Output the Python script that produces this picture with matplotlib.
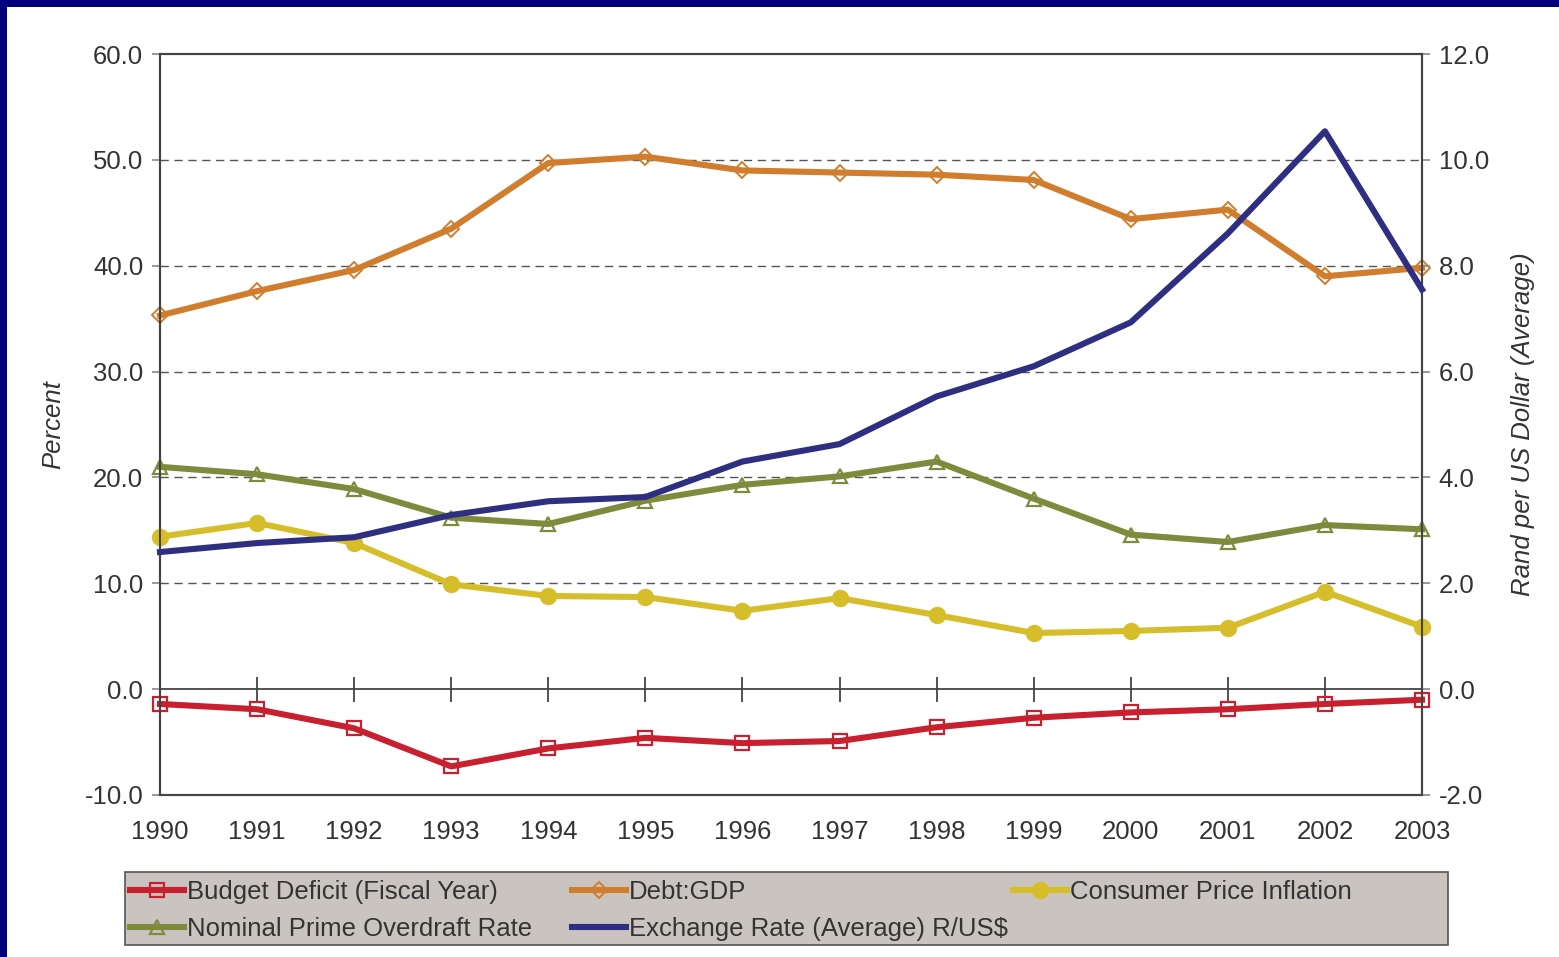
import matplotlib
matplotlib.use('Agg')
from matplotlib import pyplot as plt
from matplotlib.patches import Rectangle

plt.rcParams['font.family'] = ['Liberation Sans', 'DejaVu Sans']

years = list(range(1990, 2004))
budget_deficit = [-1.4, -1.9, -3.7, -7.3, -5.6, -4.6, -5.1, -4.9, -3.6, -2.7, -2.2, -1.9, -1.4, -1.0]
debt_gdp = [35.3, 37.6, 39.6, 43.5, 49.7, 50.3, 49.0, 48.8, 48.6, 48.1, 44.4, 45.3, 39.0, 39.8]
cpi = [14.4, 15.7, 13.8, 9.9, 8.8, 8.7, 7.4, 8.6, 7.0, 5.3, 5.5, 5.8, 9.2, 5.9]
prime_rate = [21.0, 20.3, 18.9, 16.2, 15.6, 17.8, 19.3, 20.1, 21.5, 18.0, 14.6, 13.9, 15.5, 15.1]
exchange_rate = [2.59, 2.76, 2.87, 3.29, 3.55, 3.63, 4.30, 4.63, 5.53, 6.10, 6.93, 8.61, 10.54, 7.55]

left_ticks = [-10, 0, 10, 20, 30, 40, 50, 60]
right_ticks = [-2, 0, 2, 4, 6, 8, 10, 12]

txt = '#333333'
red = '#C8202F'
orange = '#D07D2E'
yellow = '#D6BE2A'
olive = '#7E8B3C'
navy = '#2E2F80'
fs = 18.5

fig = plt.figure(figsize=(15.59, 9.57), dpi=100)
fig.patch.set_facecolor('white')

# navy frame along top and left edge
fig.patches.append(Rectangle((0, 1 - 7 / 957), 1, 7 / 957, transform=fig.transFigure,
                             facecolor='#00007A', edgecolor='none', zorder=0))
fig.patches.append(Rectangle((0, 0), 7 / 1559, 1, transform=fig.transFigure,
                             facecolor='#00007A', edgecolor='none', zorder=0))

ax = fig.add_axes([160 / 1559, 1 - 795 / 957, 1262 / 1559, 741 / 957])
ax2 = ax.twinx()

ax.set_xlim(1990, 2003)
ax.set_ylim(-10, 60)
ax2.set_ylim(-2, 12)

for v in [10, 20, 30, 40, 50]:
    ax.axhline(v, color='#555555', lw=1, ls=(0, (6, 4)), zorder=1)
ax.axhline(0, color='#444444', lw=1.3, zorder=1)
# year ticks sitting across the zero line
ax.plot(years, [0] * len(years), ls='none', marker='|', ms=18, mew=1.3,
        color='#444444', zorder=1, clip_on=False)

kw = dict(lw=4.4, clip_on=False, zorder=3)
l1, = ax.plot(years, budget_deficit, color=red, marker='s', ms=9.5, mfc='none',
              mec=red, mew=1.6, label='Budget Deficit (Fiscal Year)', **kw)
l2, = ax.plot(years, debt_gdp, color=orange, marker='D', ms=8.5, mfc='none',
              mec=orange, mew=1.4, label='Debt:GDP', **kw)
l3, = ax.plot(years, cpi, color=yellow, marker='o', ms=11.5, mec=yellow,
              label='Consumer Price Inflation', **kw)
l4, = ax.plot(years, prime_rate, color=olive, marker='^', ms=10.5, mfc='none',
              mec=olive, mew=1.6, label='Nominal Prime Overdraft Rate', **kw)
l5, = ax2.plot(years, exchange_rate, color=navy, label='Exchange Rate (Average) R/US$', **kw)

ax.set_yticks(left_ticks)
ax.set_yticklabels(['%.1f' % v for v in left_ticks])
ax2.set_yticks(right_ticks)
ax2.set_yticklabels(['%.1f' % v for v in right_ticks])
ax.set_xticks(years)
ax.set_xticklabels([str(y) for y in years])

ax.tick_params(axis='x', length=0, pad=18, labelsize=fs, labelcolor=txt)
ax.tick_params(axis='y', length=6, width=1.2, color='#888888', pad=6, labelsize=fs, labelcolor=txt)
ax2.tick_params(axis='y', length=6, width=1.2, color='#888888', pad=6, labelsize=fs, labelcolor=txt)

for a in (ax, ax2):
    for s in a.spines.values():
        s.set_color('#444444')
        s.set_linewidth(1.5)

ax.set_ylabel('Percent', fontsize=fs, style='italic', color=txt, labelpad=14)
ax2.set_ylabel('Rand per US Dollar (Average)', fontsize=fs, style='italic', color=txt, labelpad=16)

# legend box with three columns
fig.patches.append(Rectangle((125 / 1559, 1 - 945 / 957), 1323 / 1559, 73 / 957,
                             transform=fig.transFigure, facecolor='#CAC4C1',
                             edgecolor='#555555', lw=1.2, zorder=2))
cols = [([l1, l4], 124), ([l2, l5], 566), ([l3], 1007)]
for handles, x0 in cols:
    leg = fig.legend(handles=handles, loc='upper left',
                     bbox_to_anchor=(x0 / 1559, 1 - 874 / 957), frameon=False,
                     fontsize=fs, handlelength=2.1, handletextpad=0.1,
                     labelspacing=0.5, borderaxespad=0, borderpad=0.25)
    for t in leg.get_texts():
        t.set_color(txt)
    leg.set_zorder(5)

fig.savefig('out.png', dpi=100)
